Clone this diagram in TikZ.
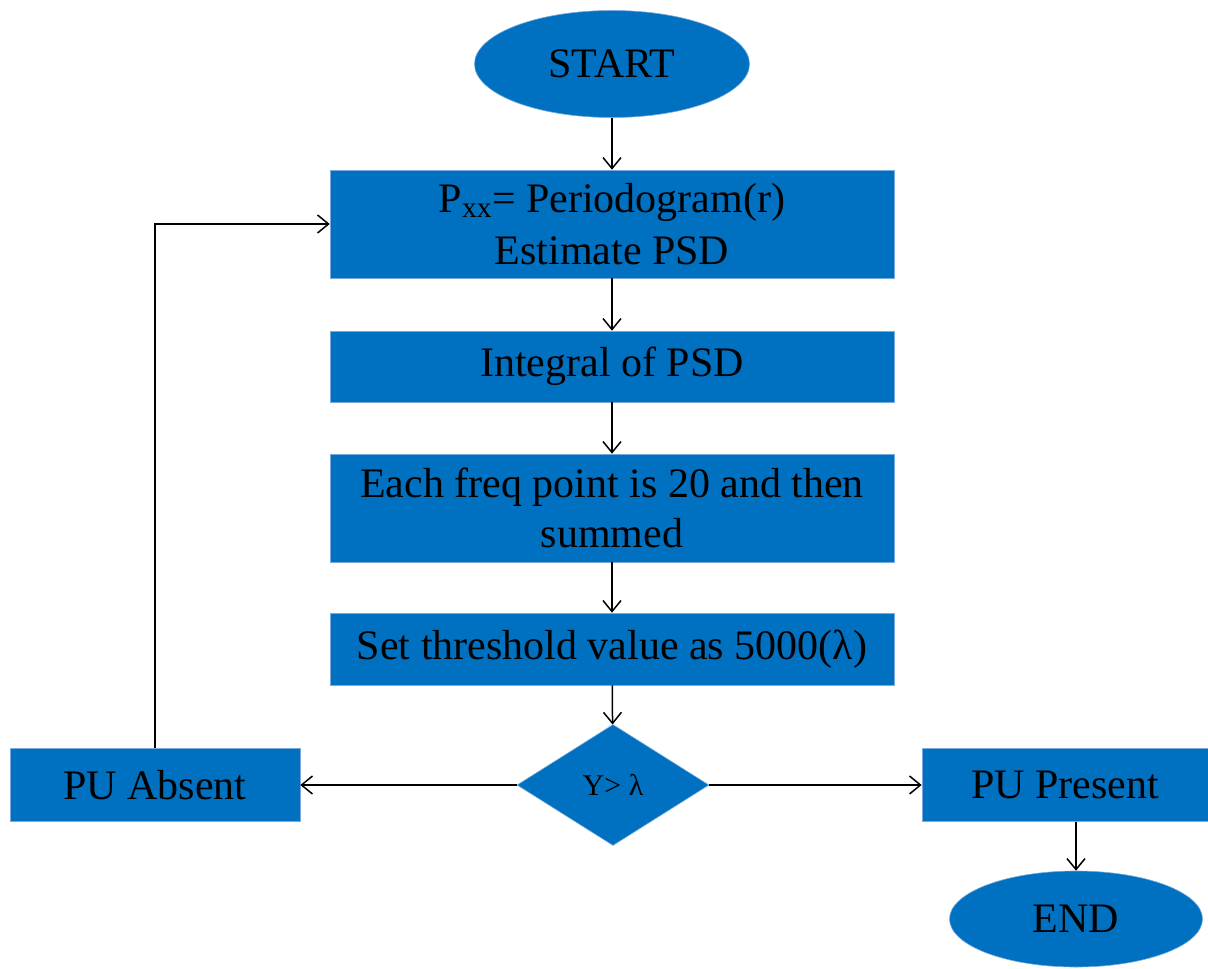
\documentclass[tikz,border=0pt]{standalone}
\usepackage{fontspec}
\setmainfont{Liberation Serif}
\usetikzlibrary{shapes.geometric,arrows.meta}
\definecolor{fblue}{RGB}{0,112,192}
\definecolor{edgeblue}{RGB}{120,170,220}
\begin{document}
\begin{tikzpicture}[x=1pt,y=-1pt,
  blk/.style={fill=fblue, draw=edgeblue, line width=0.6pt, inner sep=0pt, text=black,
              font=\fontsize{42}{50}\selectfont, align=center},
  boxn/.style={blk, rectangle, minimum width=564pt},
  ellip/.style={blk, ellipse},
  dia/.style={blk, diamond, font=\fontsize{30}{36}\selectfont},
  arr/.style={line width=1.5pt, -{Straight Barb[length=11pt,width=18pt]}},
  link/.style={line width=1.5pt}
]
\useasboundingbox (0,0) rectangle (1208,969);

\node[ellip, minimum width=275pt, minimum height=107pt] (start) at (612,64) {START};
\node[boxn, minimum height=108pt] (b1) at (612,224) {P\textsubscript{xx}= Periodogram(r)\\[2pt]Estimate PSD};
\node[boxn, minimum height=71pt] (b2) at (612,366.5) {Integral of PSD};
\node[boxn, minimum height=108pt] (b3) at (612,508) {Each freq point is 20 and then\\summed};
\node[boxn, minimum height=72pt] (b4) at (612,649) {Set threshold value as 5000(λ)};
\node[dia, minimum width=192pt, minimum height=121pt] (d) at (613,785) {Y> λ};
\node[blk, rectangle, minimum width=290pt, minimum height=73pt] (absent) at (155,785) {PU Absent};
\node[blk, rectangle, minimum width=286pt, minimum height=73pt] (present) at (1065,785) {PU Present};
\node[ellip, minimum width=253pt, minimum height=96pt] (end) at (1076,919) {END};

\draw[arr] (start) -- (b1);
\draw[arr] (b1) -- (b2);
\draw[arr] (b2) -- (b3);
\draw[arr] (b3) -- (b4);
\draw[arr] (b4) -- (d);
\draw[arr] (d.west) -- (absent.east);
\draw[arr] (d.east) -- (present.west);
\draw[arr] (absent.north) |- (b1.west);
\draw[arr] (present.south -| end.north) -- (end.north);
\end{tikzpicture}
\end{document}
